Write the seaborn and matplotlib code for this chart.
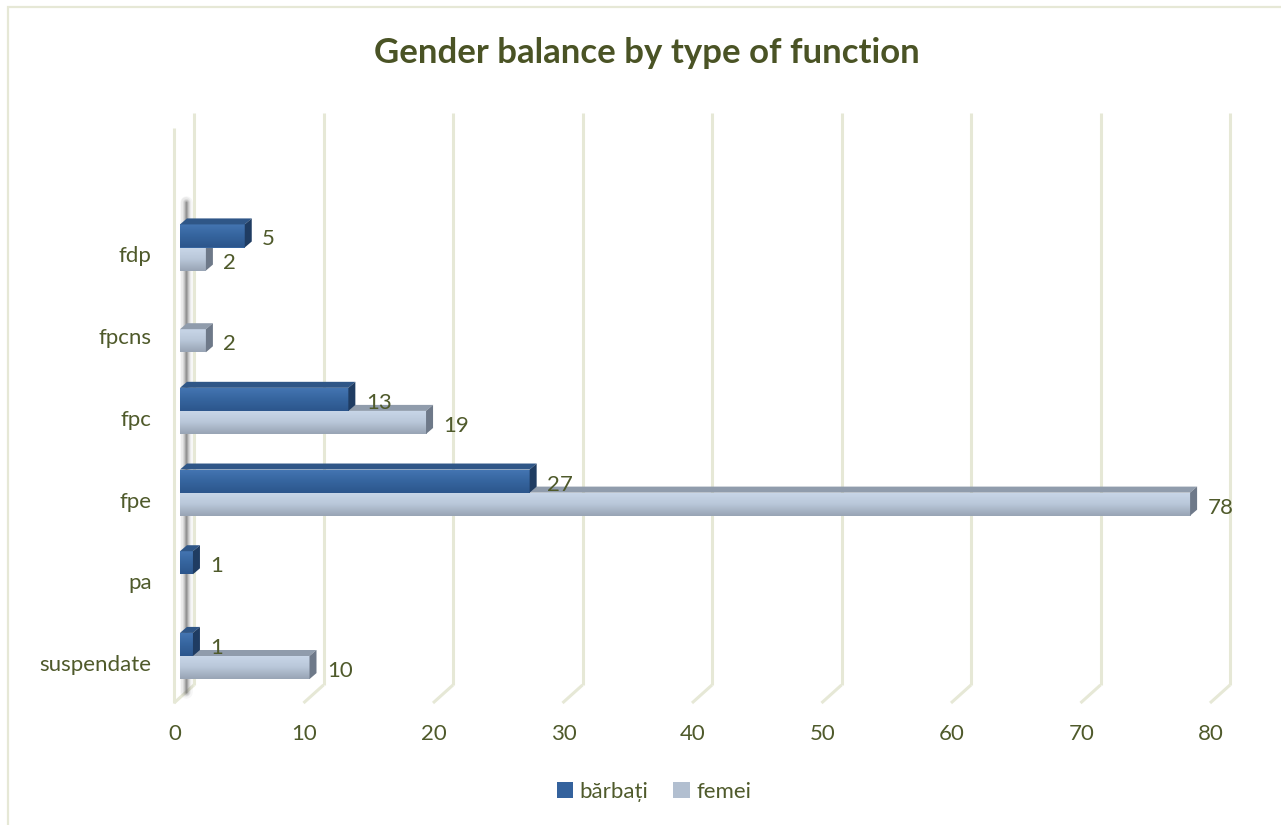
import numpy as np
import pandas as pd
import matplotlib
matplotlib.use("Agg")
import matplotlib.pyplot as plt
import matplotlib.transforms as mtransforms
from matplotlib.colors import LinearSegmentedColormap
from matplotlib.patches import Polygon, Rectangle, Patch
import seaborn as sns

# ---- data ----
categories = ["fdp", "fpcns", "fpc", "fpe", "pa", "suspendate"]
barbati = [5, np.nan, 13, 27, 1, 1]
femei = [2, 2, 19, 78, np.nan, 10]
series_names = ["bărbați", "femei"]
x_ticks = [0, 10, 20, 30, 40, 50, 60, 70, 80]
title = "Gender balance by type of function"

df = pd.DataFrame({
    "category": categories * 2,
    "series": [series_names[0]] * len(categories) + [series_names[1]] * len(categories),
    "value": barbati + femei,
}).dropna()

# ---- style ----
sns.set_theme(style="white")
FONT = ["Lato", "DejaVu Sans"]
plt.rcParams["font.family"] = FONT
TEXT_COLOR = "#4f5a2b"
GRID_COLOR = "#e6e8d6"
FS = 16

W, H = 1281, 825
fig = plt.figure(figsize=(W / 100, H / 100), dpi=100)

# pixel layout of the plotting box
X0_PX, PX_PER_UNIT = 180.0, 12.95
C0_PX, CAT_PX = 247.5, 81.7
L, R, T, B = 160, 1250, 105, 712
ax = fig.add_axes([L / W, 1 - B / H, (R - L) / W, (B - T) / H])

def px_dx(p):
    return p / PX_PER_UNIT

def px_dy(p):
    return p / CAT_PX

def xd(px):
    return (px - X0_PX) / PX_PER_UNIT

def yd(py):
    return (py - C0_PX) / CAT_PX

palette = {"bărbați": "#35649f", "femei": "#b4c2d4"}
sns.barplot(data=df, y="category", x="value", hue="series", order=categories,
            hue_order=series_names, palette=palette, width=0.565, orient="h",
            ax=ax, legend=False, linewidth=0, saturation=1)

xlim = (xd(L), xd(R))
ylim = (yd(B), yd(T))
ax.set_xlim(*xlim)
ax.set_ylim(*ylim)

# ---- walls: back gridlines, floor diagonals, side wall ----
back_dx, back_top, back_bot, front_bot = 14, 113, 685, 703
for v in x_ticks:
    xb = v + px_dx(back_dx)
    ax.plot([xb, xb], [yd(back_top), yd(back_bot)], color=GRID_COLOR, lw=2.2,
            zorder=0.5, solid_capstyle="butt")
    ax.plot([xb, v + px_dx(back_dx - 20)], [yd(back_bot), yd(front_bot)],
            color=GRID_COLOR, lw=2.2, zorder=0.5, solid_capstyle="butt")
ax.plot([xd(174), xd(174)], [yd(128), yd(front_bot)], color=GRID_COLOR, lw=2.2,
        zorder=0.5, solid_capstyle="butt")

# soft shadow of the category wall
for w, a in [(9, 0.06), (7, 0.09), (5, 0.14), (3.5, 0.2), (2, 0.3), (1, 0.4)]:
    ax.plot([px_dx(6), px_dx(6)], [yd(202), yd(692)], color="#707070", lw=w,
            alpha=a, zorder=1, solid_capstyle="round")

# ---- 3D bar faces ----
grad = np.linspace(0, 1, 64).reshape(-1, 1)
styles = {
    0: dict(cmap=LinearSegmentedColormap.from_list("m", ["#4576b3", "#36659f", "#2c568c"]),
            top="#2f5687", side="#1f3c62", z=4),
    1: dict(cmap=LinearSegmentedColormap.from_list("f", ["#c9d7e9", "#b9c7d9", "#98a4b4"]),
            top="#909cac", side="#6e7989", z=3),
}
dxd, dyd = px_dx(7), px_dy(6)
for i, cont in enumerate(ax.containers):
    st = styles[i]
    for patch in cont:
        w = patch.get_width()
        if not np.isfinite(w) or w <= 0:
            patch.set_visible(False)
            continue
        x0, y0 = patch.get_x(), patch.get_y()
        h = patch.get_height()
        y_top, y_bot = y0, y0 + h  # inverted axis: smaller index is higher
        patch.set_zorder(st["z"])
        im = ax.imshow(grad, cmap=st["cmap"], aspect="auto", origin="upper",
                       extent=(x0, x0 + w, y_bot, y_top), zorder=st["z"] + 0.1,
                       interpolation="bilinear")
        im.set_clip_path(patch)
        top = Polygon([(x0, y_top), (x0 + dxd, y_top - dyd),
                       (x0 + w + dxd, y_top - dyd), (x0 + w, y_top)],
                      closed=True, facecolor=st["top"], edgecolor="none",
                      zorder=st["z"] + 0.2)
        side = Polygon([(x0 + w, y_top), (x0 + w + dxd, y_top - dyd),
                        (x0 + w + dxd, y_bot - dyd), (x0 + w, y_bot)],
                       closed=True, facecolor=st["side"], edgecolor="none",
                       zorder=st["z"] + 0.2)
        ax.add_patch(top)
        ax.add_patch(side)
        ax.annotate(f"{w:g}", xy=(x0 + w, y0 + h / 2), xytext=(12.5, -2.5),
                    textcoords="offset points", ha="left", va="center",
                    fontsize=FS, color=TEXT_COLOR, zorder=6)

ax.set_xlim(*xlim)
ax.set_ylim(*ylim)

# ---- axes / ticks ----
for s in ax.spines.values():
    s.set_visible(False)
ax.set_xlabel("")
ax.set_ylabel("")
ax.set_xticks(x_ticks)
ax.set_xticklabels([str(t) for t in x_ticks])
ax.set_yticks(range(len(categories)))
ax.set_yticklabels(categories)
ax.tick_params(axis="both", length=0, labelsize=FS, labelcolor=TEXT_COLOR)
ax.tick_params(axis="x", pad=9)
ax.tick_params(axis="y", pad=(L - 153) / 1.389 + 1)
shift_x = mtransforms.ScaledTranslation(-0.05, 0, fig.dpi_scale_trans)
for lab in ax.get_xticklabels():
    lab.set_transform(lab.get_transform() + shift_x)
shift_y = mtransforms.ScaledTranslation(0, -0.07, fig.dpi_scale_trans)
for lab in ax.get_yticklabels():
    lab.set_transform(lab.get_transform() + shift_y)
ax.grid(False)
ax.set_facecolor("none")

# ---- title, legend, frame ----
fig.text(647 / W, 1 - 53 / H, title, ha="center", va="center", fontsize=25,
         fontweight="bold", color="#4a5325")
handles = [Patch(facecolor="#34629d", edgecolor="none"),
           Patch(facecolor="#b2bfd0", edgecolor="none")]
fig.legend(handles, series_names, loc="center", bbox_to_anchor=(654 / W, 1 - 792 / H),
           ncol=2, frameon=False, fontsize=FS, labelcolor=TEXT_COLOR,
           handlelength=0.75, handleheight=0.75, handletextpad=0.3, columnspacing=1.1)
fig.patches.append(Rectangle((8 / W, -0.05), 1.1, 1 - 7 / H + 0.05, transform=fig.transFigure,
                             fill=False, edgecolor=GRID_COLOR, lw=1.6))

fig.savefig("out.png", dpi=100)
